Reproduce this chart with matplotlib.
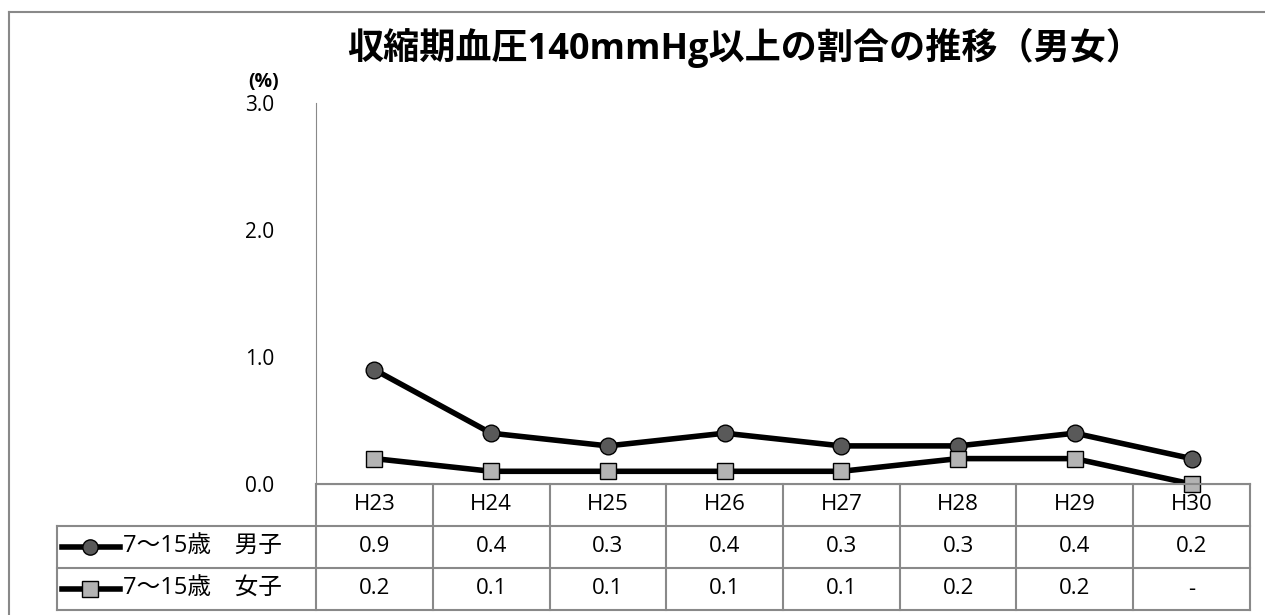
import matplotlib.pyplot as plt
from matplotlib.lines import Line2D

plt.rcParams['font.family'] = ['Open Sans', 'Noto Sans CJK JP', 'DejaVu Sans']

# data
years = ["H23", "H24", "H25", "H26", "H27", "H28", "H29", "H30"]
boys = [0.9, 0.4, 0.3, 0.4, 0.3, 0.3, 0.4, 0.2]
girls = [0.2, 0.1, 0.1, 0.1, 0.1, 0.2, 0.2, 0.0]
boys_labels = ["0.9", "0.4", "0.3", "0.4", "0.3", "0.3", "0.4", "0.2"]
girls_labels = ["0.2", "0.1", "0.1", "0.1", "0.1", "0.2", "0.2", "-"]
series_names = ["7～15歳　男子", "7～15歳　女子"]
title = "収縮期血圧140mmHg以上の割合の推移（男女）"

W, H = 1265, 615
fig = plt.figure(figsize=(W / 100, H / 100), dpi=100)

grid = "#898989"

# outer frame (left and top edges visible)
fig.add_artist(Line2D([9 / W, 9 / W], [0, 1 - 12 / H], color=grid, lw=1.5))
fig.add_artist(Line2D([9 / W, 1], [1 - 12 / H, 1 - 12 / H], color=grid, lw=1.5))

# main plot area
left, right, top, bottom = 316, 1250, 103, 484
ax = fig.add_axes([left / W, 1 - bottom / H, (right - left) / W, (bottom - top) / H])
x = list(range(len(years)))
ax.plot(x, boys, color="black", lw=4, marker="o", ms=12,
        mfc="#595959", mec="black", mew=1, zorder=3, clip_on=False)
ax.plot(x, girls, color="black", lw=4, marker="s", ms=12,
        mfc="#b3b3b3", mec="black", mew=1, zorder=3, clip_on=False)
ax.set_xlim(-0.5, len(years) - 0.5)
ax.set_ylim(0, 3)
ax.set_yticks([0, 1, 2, 3])
ax.set_yticklabels(["0.0", "1.0", "2.0", "3.0"], fontsize=15)
ax.tick_params(axis="y", length=0, pad=30)
ax.set_xticks([])
for s in ["top", "right"]:
    ax.spines[s].set_visible(False)
ax.spines["left"].set_color(grid)
ax.spines["bottom"].set_color(grid)
ax.text(-0.056, 1.055, "(%)", transform=ax.transAxes, fontsize=14,
        fontweight="bold", ha="center", va="center")

fig.text(745 / W, 1 - 48 / H, title, fontsize=26, fontweight="bold",
         ha="center", va="center")

# data table below the plot
tleft, tbottom = 57, 610
unit = (right - left) / len(years)
tab = fig.add_axes([tleft / W, 1 - tbottom / H, (right - tleft) / W, (tbottom - bottom) / H])
x0 = -0.5 - (left - tleft) / unit
tab.set_xlim(x0, len(years) - 0.5)
tab.set_ylim(3, 0)
tab.axis("off")

kw = dict(color=grid, lw=1.5, clip_on=False)
# horizontal lines
tab.plot([-0.5, len(years) - 0.5], [0, 0], **kw)
for r in [1, 2, 3]:
    tab.plot([x0, len(years) - 0.5], [r, r], **kw)
# vertical lines
for i in range(len(years) + 1):
    tab.plot([i - 0.5, i - 0.5], [0, 3], **kw)
tab.plot([x0, x0], [1, 3], **kw)

for i, yr in enumerate(years):
    tab.text(i, 0.5, yr, ha="center", va="center", fontsize=16)
    tab.text(i, 1.5, boys_labels[i], ha="center", va="center", fontsize=16)
    tab.text(i, 2.5, girls_labels[i], ha="center", va="center", fontsize=16)

# legend keys inside the table
markers = [("o", "#595959"), ("s", "#b3b3b3")]
for r, (name, (m, c)) in enumerate(zip(series_names, markers)):
    yy = r + 1.5
    tab.plot([x0 + 0.043, x0 + 0.54], [yy, yy], color="black", lw=4, clip_on=False)
    tab.plot([x0 + 0.283], [yy], marker=m, ms=11, mfc=c, mec="black",
             mew=1, clip_on=False)
    tab.text(x0 + 0.565, yy, name, ha="left", va="center", fontsize=17)

fig.savefig("out.png", dpi=100)
